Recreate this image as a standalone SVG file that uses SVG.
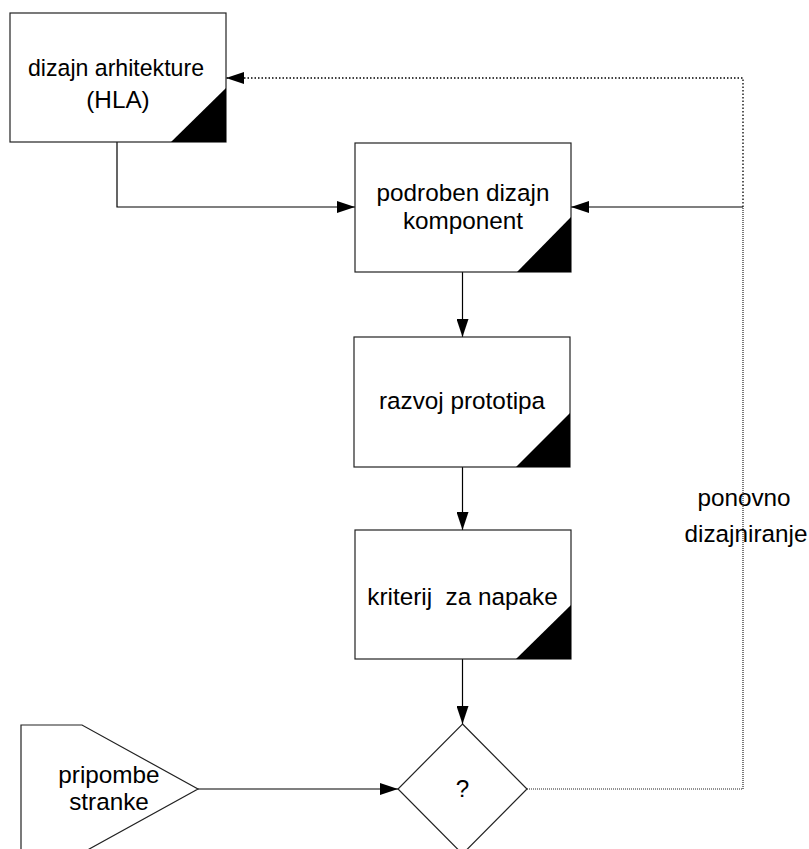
<svg xmlns="http://www.w3.org/2000/svg" width="809" height="849" viewBox="0 0 809 849">
<style>
  .box { fill: #ffffff; stroke: #222222; stroke-width: 1.2; }
  .tri { fill: #000000; stroke: none; }
  .lbl { font-family: "Liberation Sans", Arial, sans-serif; font-size: 24.3px; fill: #000000; text-anchor: middle; white-space: pre; }
  .conn { fill: none; stroke: #000000; stroke-width: 1.2; }
  .dot { fill: none; stroke: #000000; stroke-width: 1.3; stroke-dasharray: 1.5 2; }
  .dense { fill: none; stroke: #222222; stroke-width: 1.2; stroke-dasharray: 1 1; }
</style>
<defs>
  <marker id="arr" markerUnits="userSpaceOnUse" markerWidth="18" markerHeight="12" refX="18" refY="6" orient="auto">
    <path d="M0,0 L18,6 L0,12 Z" fill="#000000"/>
  </marker>
</defs>
<rect width="809" height="849" fill="#ffffff"/>

<g id="connectors">
  <path class="conn" d="M117,142 V207 H355" marker-end="url(#arr)"/>
  <path class="conn" d="M462.5,272 V337" marker-end="url(#arr)"/>
  <path class="conn" d="M462.5,467 V530" marker-end="url(#arr)"/>
  <path class="conn" d="M462.5,659 V724" marker-end="url(#arr)"/>
  <path class="conn" d="M198,789 H398" marker-end="url(#arr)"/>
  <path class="dense" d="M527,789 H743 V207"/>
  <path class="conn" d="M743,207 H571" marker-end="url(#arr)"/>
  <path class="dot" d="M743,207 V78 H226" marker-end="url(#arr)"/>
  <text class="lbl" x="744" y="506">ponovno</text>
  <text class="lbl" x="746" y="542">dizajniranje</text>
</g>

<g id="node-hla">
  <rect class="box" x="10" y="13" width="216" height="129"/>
  <path class="tri" d="M171,142 L226,142 L226,88 Z"/>
  <text class="lbl" x="116" y="76" textLength="176" lengthAdjust="spacingAndGlyphs">dizajn arhitekture</text>
  <text class="lbl" x="118" y="108">(HLA)</text>
</g>

<g id="node-podroben">
  <rect class="box" x="355" y="143" width="216" height="129"/>
  <path class="tri" d="M517,272 L571,272 L571,217 Z"/>
  <text class="lbl" x="463" y="201">podroben dizajn</text>
  <text class="lbl" x="463" y="229">komponent</text>
</g>

<g id="node-razvoj">
  <rect class="box" x="354" y="337" width="216" height="130"/>
  <path class="tri" d="M516,467 L570,467 L570,413 Z"/>
  <text class="lbl" x="462" y="409">razvoj prototipa</text>
</g>

<g id="node-kriterij">
  <rect class="box" x="355" y="530" width="216" height="129"/>
  <path class="tri" d="M516,659 L571,659 L571,605 Z"/>
  <text class="lbl" x="462.5" y="605">kriterij  za napake</text>
</g>

<g id="node-decision">
  <path class="box" d="M462.5,724 L527,789 L462.5,854 L398,789 Z"/>
  <text class="lbl" x="462.5" y="797">?</text>
</g>

<g id="node-pripombe">
  <path class="box" d="M21,860 V725 H82 L198,789 L82,853"/>
  <text class="lbl" x="109" y="783">pripombe</text>
  <text class="lbl" x="109" y="810">stranke</text>
</g>
</svg>
